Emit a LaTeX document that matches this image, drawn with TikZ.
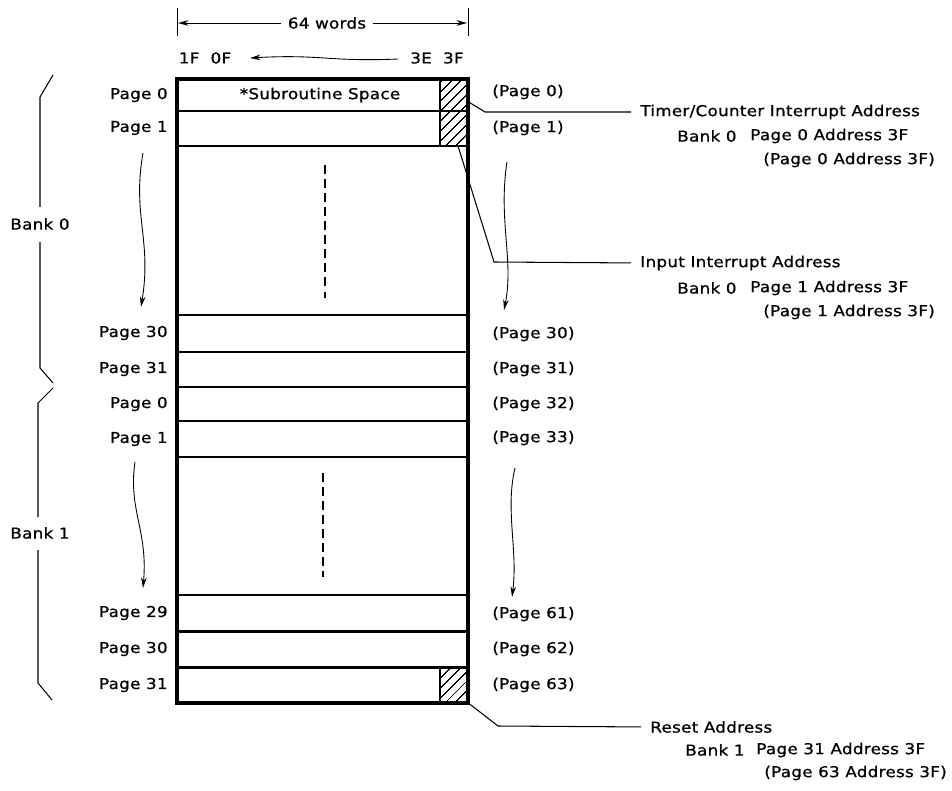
\documentclass[tikz,border=0pt]{standalone}
\usepackage{fontspec}
\setmainfont{DejaVu Sans}[FakeStretch=1.12,LetterSpace=2,FakeBold=0.8]
\usepackage{tikz}
\usetikzlibrary{positioning}
\usetikzlibrary{patterns.meta}
\usetikzlibrary{arrows.meta}
\tikzset{lbl/.style={font=\fontsize{8.5}{10}\selectfont, inner sep=0pt}}
\tikzset{rowline/.style={line width=1.7pt}}
\tikzset{hatchbox/.style={line width=1.2pt, pattern={Lines[angle=45,distance=4pt,line width=0.7pt]}}}
\tikzset{wavy/.style={line width=0.5pt, -{Stealth[length=6pt,width=3.2pt]}}}
\tikzset{leader/.style={line width=0.6pt, shorten >=5pt}}

\begin{document}
\begin{tikzpicture}[x=0.02cm,y=-0.02cm]
\useasboundingbox (0,0) rectangle (952,790);
% width marker
\draw (177,8) -- (177,36);
\draw (468,8) -- (468,36);
\node[lbl] (words) at (327,23) {64 words};
\coordinate (wl) at (178,23);
\coordinate (wr) at (467,23);
\draw[wavy, shorten <=4pt] (words.west) -- (wl);
\draw[wavy, shorten <=4pt] (words.east) -- (wr);
\node[lbl] (lowaddr) at (205,58) {1F~~0F};
\node[lbl] (highaddr) at (437,58) {3E~~3F};
\draw[wavy] (398,59) .. controls (330,62) and (320,54) .. (250,58);
% memory block
\foreach \y in {111,146,315,352,387,421,457,595,631,667} {
\draw[rowline] (177,\y) -- (468,\y);
}
\draw[hatchbox] (440,79) rectangle (468,111);
\draw[hatchbox] (440,111) rectangle (468,146);
\draw[hatchbox] (440,667) rectangle (468,703);
\draw[line width=1.9pt] (177,79) rectangle (468,703);
\node[lbl] (sub) at (320,95) {*Subroutine Space};
\draw[line width=0.6pt, dash pattern=on 5pt off 3pt] (325,165) -- (325,298);
\draw[line width=0.6pt, dash pattern=on 5pt off 3pt] (323,473) -- (323,577);
% left page names
\node[lbl, anchor=east] (lp0) at (168,95) {Page 0};
\node[lbl, anchor=east] (lp1) at (168,128) {Page 1};
\node[lbl, anchor=east] (lp30) at (168,333) {Page 30};
\node[lbl, anchor=east] (lp31) at (168,369) {Page 31};
\node[lbl, anchor=east] (lq0) at (168,404) {Page 0};
\node[lbl, anchor=east] (lq1) at (168,439) {Page 1};
\node[lbl, anchor=east] (lq29) at (168,613) {Page 29};
\node[lbl, anchor=east] (lq30) at (168,649) {Page 30};
\node[lbl, anchor=east] (lq31) at (168,685) {Page 31};
\draw[wavy] (143,153) .. controls (132,215) and (152,240) .. (141,307);
\draw[wavy] (135,462) .. controls (128,510) and (148,530) .. (143,588);
% banks
\node[lbl] (bank0) at (40,224) {Bank 0};
\node[lbl] (bank1) at (40,533) {Bank 1};
\draw[line width=0.6pt] (53,75) -- (40,97) -- (40,207);
\draw[line width=0.6pt] (40,242) -- (40,368) -- (53,383);
\draw[line width=0.6pt] (53,388) -- (38,403) -- (38,517);
\draw[line width=0.6pt] (38,550) -- (38,683) -- (52,700);
% right page numbers
\node[lbl, anchor=west] (rp0) at (492,92) {(Page 0)};
\node[lbl, anchor=west] (rp1) at (492,128) {(Page 1)};
\node[lbl, anchor=west] (rp30) at (492,334) {(Page 30)};
\node[lbl, anchor=west] (rp31) at (492,369) {(Page 31)};
\node[lbl, anchor=west] (rp32) at (492,404) {(Page 32)};
\node[lbl, anchor=west] (rp33) at (492,438) {(Page 33)};
\node[lbl, anchor=west] (rp61) at (492,614) {(Page 61)};
\node[lbl, anchor=west] (rp62) at (492,649) {(Page 62)};
\node[lbl, anchor=west] (rp63) at (492,685) {(Page 63)};
\draw[wavy] (507,162) .. controls (498,220) and (514,260) .. (504,310);
\draw[wavy] (515,468) .. controls (505,510) and (518,550) .. (512,597);
% interrupt and reset addresses
\node[lbl, anchor=west] (timer) at (640,112) {Timer/Counter Interrupt Address};
\node[lbl, anchor=west] (tbank) at (677,136) {Bank 0};
\node[lbl, anchor=west] (tpage) at (750,136) {Page 0 Address 3F};
\node[lbl, anchor=west] (tpage2) at (763,160) {(Page 0 Address 3F)};
\node[lbl, anchor=west] (input) at (640,263) {Input Interrupt Address};
\node[lbl, anchor=west] (ibank) at (677,288) {Bank 0};
\node[lbl, anchor=west] (ipage) at (750,288) {Page 1 Address 3F};
\node[lbl, anchor=west] (ipage2) at (763,312) {(Page 1 Address 3F)};
\node[lbl, anchor=west] (reset) at (650,727) {Reset Address};
\node[lbl, anchor=west] (rbank) at (685,750) {Bank 1};
\node[lbl, anchor=west] (rpage) at (756,750) {Page 31 Address 3F};
\node[lbl, anchor=west] (rpage2) at (764,773) {(Page 63 Address 3F)};
\coordinate (h0) at (467,101);
\coordinate (k0) at (485,112);
\coordinate (h1) at (458,146);
\coordinate (k1) at (494,262);
\coordinate (h2) at (467,702);
\coordinate (k2) at (498,726);
\draw[leader] (h0) -- (k0) -- (timer.west);
\draw[leader] (h1) -- (k1) -- (input.west);
\draw[leader] (h2) -- (k2) -- (reset.west);
\end{tikzpicture}
\end{document}
